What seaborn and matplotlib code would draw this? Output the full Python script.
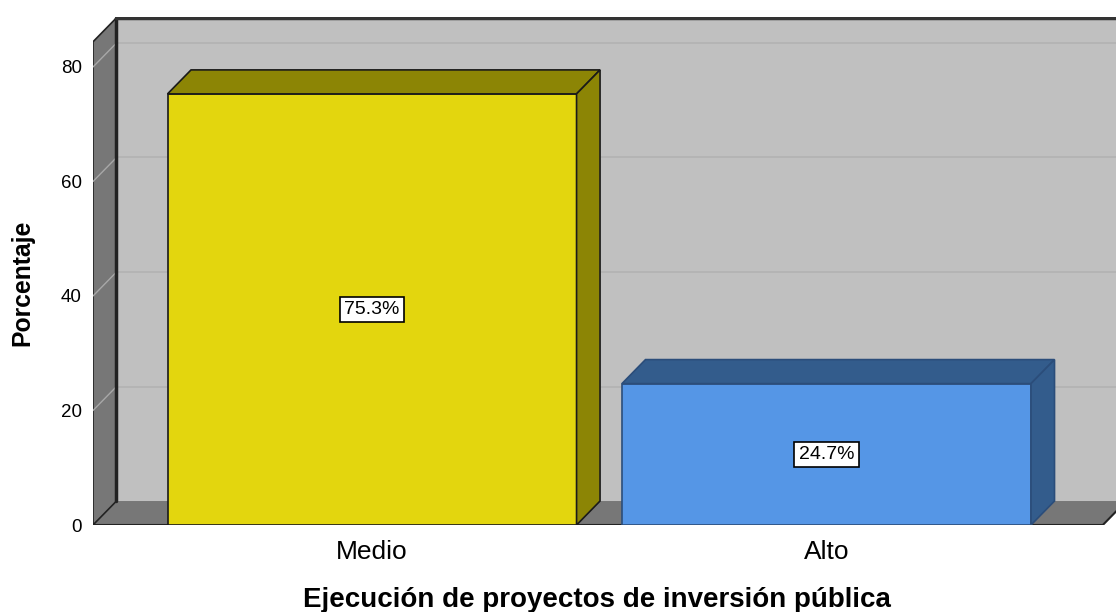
import matplotlib
matplotlib.use("Agg")
import matplotlib.pyplot as plt
import seaborn as sns
import pandas as pd
from matplotlib.patches import Polygon

categorias = ["Medio", "Alto"]
porcentajes = [75.3, 24.7]
colores_frente = ["#E3D60E", "#5596E6"]
colores_lado = ["#8C8505", "#335C8C"]
bordes = ["#1a1a1a", "#2b4d7a"]
ticks_y = [0, 20, 40, 60, 80]

df = pd.DataFrame({"cat": categorias, "pct": porcentajes})

sns.set_style("white")
plt.rcParams["font.family"] = ["Liberation Sans", "DejaVu Sans"]
plt.rcParams["text.color"] = "black"
plt.rcParams["axes.labelcolor"] = "black"
plt.rcParams["xtick.color"] = "black"
plt.rcParams["ytick.color"] = "black"

fig = plt.figure(figsize=(11.16, 6.12), dpi=100)
ax = fig.add_axes([93 / 1116, 87 / 612, 1023 / 1116, 508 / 612])

sns.barplot(data=df, x="cat", y="pct", hue="cat", palette=colores_frente,
            width=0.9, edgecolor="black", linewidth=1.2, legend=False,
            saturation=1, ax=ax, zorder=5)

L, R = -0.614, 1.637
top = 84.4
dx, dy = 0.0517, 4.19
ax.set_xlim(L, R)
ax.set_ylim(0, 88.73)

# paredes
ax.add_patch(Polygon([(L + dx, dy), (R + 1, dy), (R + 1, top + dy), (L + dx, top + dy)],
                     closed=True, facecolor="#C0C0C0", edgecolor="none", zorder=1))
for v in ticks_y[1:]:
    ax.plot([L + dx, R + 1], [v + dy, v + dy], color="#B2B2B2", lw=1.2, zorder=1.5)
ax.add_patch(Polygon([(L, 0), (1.608, 0), (1.608 + dx, dy), (L + dx, dy)],
                     closed=True, facecolor="#777777", edgecolor="none", zorder=2))
ax.plot([L, 1.608, 1.608 + dx], [0, 0, dy], color="#222222", lw=1.5, zorder=2.5)
ax.add_patch(Polygon([(L, 0), (L + dx, dy), (L + dx, top + dy), (L, top)],
                     closed=True, facecolor="#777777", edgecolor="#222222", lw=1.2, zorder=2))
for v in ticks_y[1:]:
    ax.plot([L, L + dx], [v, v + dy], color="#A8A8A8", lw=1, zorder=2.2)
ax.plot([L + dx, L + dx], [dy, top + dy], color="#222222", lw=2.5, zorder=2.6)
ax.plot([L + dx, R + 1], [top + dy, top + dy], color="#333333", lw=2.5, zorder=2.6)

# caras 3D de las barras
for i, p in enumerate(ax.patches[:2]):
    x0, w, h = p.get_x(), p.get_width(), p.get_height()
    x1 = x0 + w
    p.set_edgecolor(bordes[i])
    ax.add_patch(Polygon([(x0, h), (x1, h), (x1 + dx, h + dy), (x0 + dx, h + dy)],
                         closed=True, facecolor=colores_lado[i], edgecolor=bordes[i], lw=1.2, zorder=5))
    ax.add_patch(Polygon([(x1, 0), (x1 + dx, dy), (x1 + dx, h + dy), (x1, h)],
                         closed=True, facecolor=colores_lado[i], edgecolor=bordes[i], lw=1.2, zorder=5))

for cont in ax.containers:
    ax.bar_label(cont, labels=[f"{v:.1f}%" for v in cont.datavalues], label_type="center",
                 fontsize=14, zorder=6,
                 bbox=dict(boxstyle="square,pad=0.22", facecolor="white", edgecolor="black", lw=1.2))

for s in ax.spines.values():
    s.set_visible(False)
ax.set_yticks(ticks_y)
ax.tick_params(axis="y", length=0, pad=8, labelsize=13.5)
ax.tick_params(axis="x", length=0, pad=11, labelsize=19)

ax.set_ylabel("Porcentaje", fontsize=17.8, fontweight="bold")
ax.yaxis.set_label_coords(-0.0694, 0.476)
ax.yaxis.label.set_va("center")
ax.set_xlabel("Ejecución de proyectos de inversión pública", fontsize=20, fontweight="bold")
ax.xaxis.set_label_coords(0.4927, -0.1476)
ax.xaxis.label.set_va("center")

fig.savefig("out.png", dpi=100)
